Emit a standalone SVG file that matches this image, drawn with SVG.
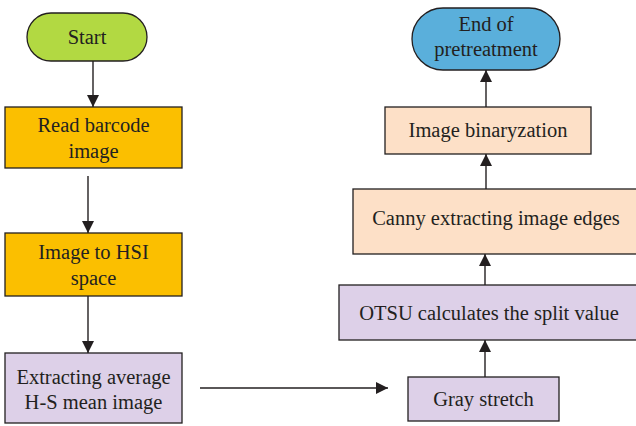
<svg xmlns="http://www.w3.org/2000/svg" width="636" height="426" viewBox="0 0 636 426">
<style>
.b{stroke:#231f20;stroke-width:1.3}
.t{font-family:"Liberation Serif","Times New Roman",serif;font-size:20.5px;fill:#231f20;text-anchor:middle}
.c{stroke:#231f20;stroke-width:1.4;fill:none}
</style>
<defs>
<marker id="ah" viewBox="0 0 10 10" refX="10" refY="5" markerWidth="12" markerHeight="12" markerUnits="userSpaceOnUse" orient="auto">
<path d="M0,0 L10,5 L0,10 Z" fill="#231f20"/>
</marker>
</defs>
<rect width="636" height="426" fill="#ffffff"/>
<g id="connectors">
<line class="c" x1="93" y1="61" x2="93" y2="107" marker-end="url(#ah)"/>
<line class="c" x1="88" y1="176" x2="88" y2="233" marker-end="url(#ah)"/>
<line class="c" x1="88" y1="296" x2="88" y2="353" marker-end="url(#ah)"/>
<line class="c" x1="200" y1="388" x2="388" y2="388" marker-end="url(#ah)"/>
<line class="c" x1="485" y1="377" x2="485" y2="340" marker-end="url(#ah)"/>
<line class="c" x1="485" y1="285" x2="485" y2="254" marker-end="url(#ah)"/>
<line class="c" x1="486" y1="189" x2="486" y2="154" marker-end="url(#ah)"/>
<line class="c" x1="486" y1="107" x2="486" y2="70" marker-end="url(#ah)"/>
</g>
<g id="start">
<rect class="b" x="27" y="13" width="120" height="48" rx="24" fill="#b2d942"/>
<text class="t" x="87" y="44">Start</text>
</g>
<g id="read">
<rect class="b" x="5" y="107" width="177" height="61" fill="#fbbf00"/>
<text class="t" x="93.5" y="132">Read barcode</text>
<text class="t" x="93.5" y="158">image</text>
</g>
<g id="hsi">
<rect class="b" x="5" y="233" width="177" height="63" fill="#fbbf00"/>
<text class="t" x="93.5" y="259">Image to HSI</text>
<text class="t" x="93.5" y="285">space</text>
</g>
<g id="extract">
<rect class="b" x="5" y="353" width="177" height="70" fill="#ddd0e8"/>
<text class="t" x="93.5" y="384">Extracting average</text>
<text class="t" x="93.5" y="409">H-S mean image</text>
</g>
<g id="gray">
<rect class="b" x="408" y="377" width="151" height="44" fill="#ddd0e8"/>
<text class="t" x="483.5" y="406">Gray stretch</text>
</g>
<g id="otsu">
<rect class="b" x="339" y="285" width="300" height="55" fill="#ddd0e8"/>
<text class="t" x="489" y="320">OTSU calculates the split value</text>
</g>
<g id="canny">
<rect class="b" x="353" y="189" width="286" height="65" fill="#fde0c7"/>
<text class="t" x="496" y="225">Canny extracting image edges</text>
</g>
<g id="binarize">
<rect class="b" x="385" y="107" width="206" height="47" fill="#fde0c7"/>
<text class="t" x="488" y="137">Image binaryzation</text>
</g>
<g id="end">
<rect class="b" x="412" y="8" width="148" height="62" rx="31" fill="#5aafdb"/>
<text class="t" x="486" y="31">End of</text>
<text class="t" x="486" y="56">pretreatment</text>
</g>
</svg>
